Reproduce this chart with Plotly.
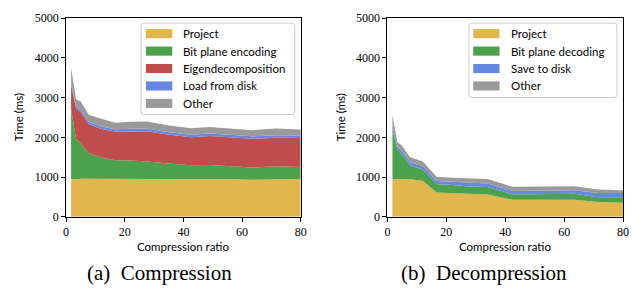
import plotly.graph_objects as go

W, H = 633, 294

# ---------------- data ----------------
comp_ratio = [1.7, 3.4, 5.0, 7.7, 12, 16.7, 22, 27.7, 34, 42.5, 49, 56, 63.5, 71.5, 80]
comp_project = [960, 940, 960, 960, 955, 950, 955, 965, 950, 945, 950, 945, 935, 950, 950]
comp_bitplane = [1760, 1020, 890, 640, 535, 475, 460, 430, 400, 350, 355, 335, 305, 320, 305]
comp_eigen = [600, 760, 790, 730, 720, 720, 735, 760, 730, 710, 730, 720, 725, 720, 730]
comp_load = [80, 50, 60, 60, 60, 60, 65, 65, 60, 60, 60, 60, 60, 60, 60]
comp_other = [350, 190, 200, 180, 195, 165, 180, 180, 170, 165, 165, 165, 155, 175, 150]

dec_ratio = [1.7, 3.4, 5.0, 7.7, 12, 16.7, 22, 27.7, 34, 42.5, 49, 56, 63.5, 71.5, 80]
dec_project = [940, 950, 950, 945, 910, 610, 595, 575, 560, 430, 430, 430, 430, 375, 355]
dec_bitplane = [1260, 740, 620, 345, 280, 210, 205, 190, 190, 140, 140, 140, 150, 120, 135]
dec_save = [100, 80, 80, 90, 80, 80, 80, 95, 90, 80, 85, 95, 90, 105, 110]
dec_other = [250, 110, 130, 120, 120, 110, 105, 110, 110, 105, 105, 100, 100, 90, 70]

comp_labels = ["Project", "Bit plane encoding", "Eigendecomposition", "Load from disk", "Other"]
dec_labels = ["Project", "Bit plane decoding", "Save to disk", "Other"]

C_PROJ, C_BIT, C_EIG, C_DISK, C_OTH = "#E1B64C", "#4CA14C", "#C04D4D", "#6788E2", "#9A9A9A"
comp_colors = [C_PROJ, C_BIT, C_EIG, C_DISK, C_OTH]
dec_colors = [C_PROJ, C_BIT, C_DISK, C_OTH]

x_ticks = [0, 20, 40, 60, 80]
y_ticks = [0, 1000, 2000, 3000, 4000, 5000]

# ---------------- helpers ----------------
def px(x):
    return x / W

def py(y):
    return 1 - y / H

SANS = "Lato"
SERIF = "Liberation Serif"

fig = go.Figure()

comp_series = [comp_project, comp_bitplane, comp_eigen, comp_load, comp_other]
for name, vals, col in zip(comp_labels, comp_series, comp_colors):
    fig.add_trace(go.Scatter(x=comp_ratio, y=vals, name=name, stackgroup="comp",
                             mode="lines", line=dict(width=0, color=col),
                             fillcolor=col, showlegend=False,
                             xaxis="x", yaxis="y"))

dec_series = [dec_project, dec_bitplane, dec_save, dec_other]
for name, vals, col in zip(dec_labels, dec_series, dec_colors):
    fig.add_trace(go.Scatter(x=dec_ratio, y=vals, name=name, stackgroup="dec",
                             mode="lines", line=dict(width=0, color=col),
                             fillcolor=col, showlegend=False,
                             xaxis="x2", yaxis="y2"))

ydom = [py(220.3), py(11.7)]
axis_common = dict(showline=True, linecolor="black", linewidth=1, mirror=True,
                   ticks="outside", ticklen=4, tickwidth=1, tickcolor="black",
                   showgrid=False, zeroline=False,
                   tickfont=dict(family=SERIF, size=12, color="black"))

fig.update_layout(
    width=W, height=H,
    margin=dict(l=0, r=0, t=0, b=0),
    paper_bgcolor="white", plot_bgcolor="white",
    showlegend=False,
    xaxis=dict(domain=[px(64), px(302)], range=[0, 80], tickvals=x_ticks, anchor="y", **axis_common),
    yaxis=dict(domain=ydom, range=[0, 5000], tickvals=y_ticks, anchor="x", **axis_common),
    xaxis2=dict(domain=[px(390), px(629)], range=[0, 80], tickvals=x_ticks, anchor="y2", **axis_common),
    yaxis2=dict(domain=ydom, range=[0, 5000], tickvals=y_ticks, anchor="x2", **axis_common),
)

# ---------------- legends (drawn boxes) ----------------
def rounded_box(x0, y0, x1, y1, r=3):
    rx, ry = r / W, r / H
    X0, X1 = px(x0), px(x1)
    Y0, Y1 = py(y0), py(y1)  # Y0 top, Y1 bottom
    return (f"M{X0+rx},{Y0} L{X1-rx},{Y0} Q{X1},{Y0} {X1},{Y0-ry} "
            f"L{X1},{Y1+ry} Q{X1},{Y1} {X1-rx},{Y1} L{X0+rx},{Y1} "
            f"Q{X0},{Y1} {X0},{Y1+ry} L{X0},{Y0-ry} Q{X0},{Y0} {X0+rx},{Y0} Z")

def add_legend(labels, colors, box, patch_x0, text_x, first_y, step=18.3):
    x0, y0, x1, y1 = box
    fig.add_shape(type="path", path=rounded_box(x0, y0, x1, y1), xref="paper", yref="paper",
                  line=dict(color="#CCCCCC", width=1), fillcolor="rgba(255,255,255,0.8)",
                  layer="above")
    for i, (lab, col) in enumerate(zip(labels, colors)):
        yc = first_y + i * step
        fig.add_shape(type="rect", xref="paper", yref="paper",
                      x0=px(patch_x0), x1=px(patch_x0 + 26.7),
                      y0=py(yc + 4.8), y1=py(yc - 4.8),
                      fillcolor=col, line=dict(width=0), layer="above")
        fig.add_annotation(text=lab, xref="paper", yref="paper", x=px(text_x), y=py(yc),
                           xanchor="left", yanchor="middle", showarrow=False,
                           font=dict(family=SANS, size=11.5, color="black"))

add_legend(comp_labels, comp_colors, (140, 17, 296, 113), 145, 181, 28)
add_legend(dec_labels, dec_colors, (472.7, 17, 622.7, 95), 477, 513.5, 28)

# ---------------- axis titles & captions ----------------
for xc in (183, 509.5):
    fig.add_annotation(text="Compression ratio", xref="paper", yref="paper",
                       x=px(xc), y=py(251.5), xanchor="center", yanchor="middle",
                       showarrow=False, font=dict(family=SANS, size=11.5, color="black"))
for xc in (16, 342.7):
    fig.add_annotation(text="Time (ms)", xref="paper", yref="paper",
                       x=px(xc), y=py(116), xanchor="center", yanchor="middle",
                       textangle=-90, showarrow=False,
                       font=dict(family=SANS, size=11.5, color="black"))

fig.add_annotation(text="(a)  Compression", xref="paper", yref="paper", x=px(159), y=py(279),
                   xanchor="center", yanchor="middle", showarrow=False,
                   font=dict(family=SERIF, size=21, color="black"))
fig.add_annotation(text="(b)  Decompression", xref="paper", yref="paper", x=px(487.5), y=py(279),
                   xanchor="center", yanchor="middle", showarrow=False,
                   font=dict(family=SERIF, size=21, color="black"))

fig.write_html("out.html", config={"displayModeBar": False},
               post_script="document.body.style.margin='0';document.body.style.overflow='hidden';")
